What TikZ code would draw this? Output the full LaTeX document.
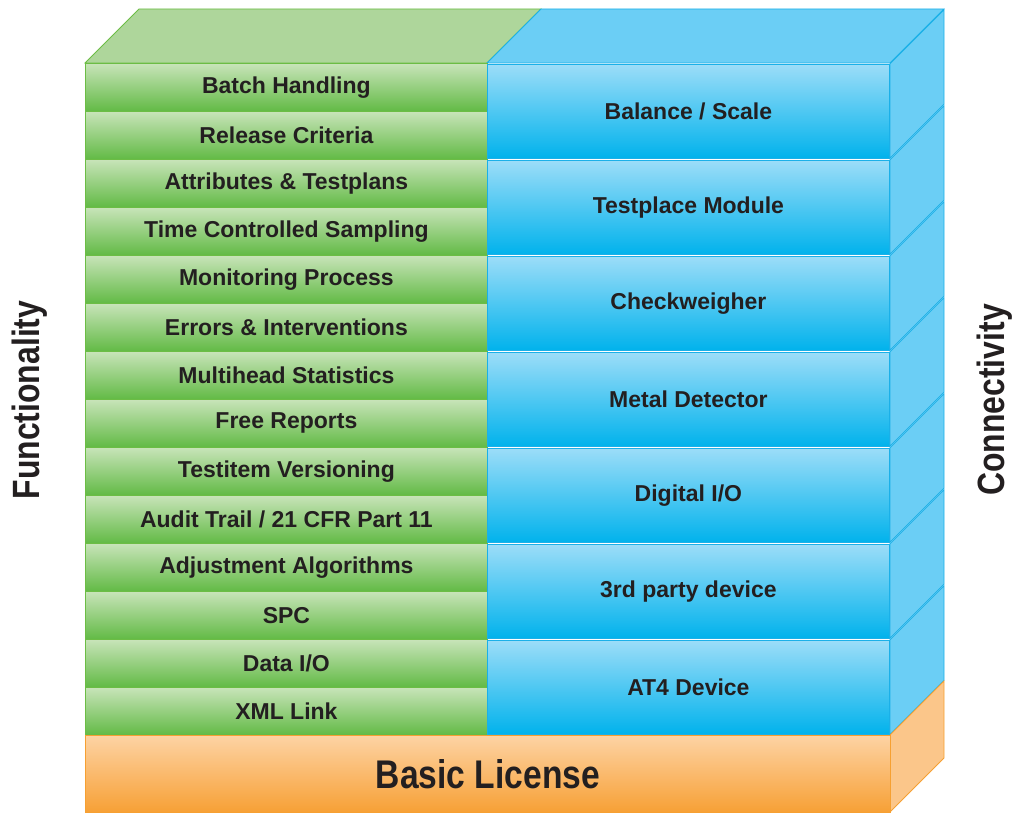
\documentclass[tikz,border=0pt]{standalone}
\usepackage{fontspec}
\setmainfont{Liberation Sans}
\newfontfamily\narrowfont{Liberation Sans}[FakeStretch=0.84]
\usetikzlibrary{positioning}
\definecolor{ink}{HTML}{231F20}
\definecolor{greenln}{HTML}{6CBD45}
\definecolor{greentop}{HTML}{C8E4B9}
\definecolor{greenmid}{HTML}{ADD698}
\definecolor{greenbot}{HTML}{62BA45}
\definecolor{greenlid}{HTML}{AED69B}
\definecolor{blueln}{HTML}{1BB0E8}
\definecolor{bluetop}{HTML}{9CDDF8}
\definecolor{bluemid}{HTML}{58C8F2}
\definecolor{bluebot}{HTML}{00B2EC}
\definecolor{bluelid}{HTML}{6BCEF5}
\definecolor{orangeln}{HTML}{F6A032}
\definecolor{orangetop}{HTML}{FDD3A4}
\definecolor{orangemid}{HTML}{FBBF7D}
\definecolor{orangebot}{HTML}{F7A035}
\definecolor{orangelid}{HTML}{FBC68A}

\begin{document}
\begin{tikzpicture}[x=1pt,y=-1pt,
  func/.style={draw=greenln,line width=0.8pt,top color=greentop,middle color=greenmid,bottom color=greenbot,
    minimum width=402pt,minimum height=48pt,inner sep=0pt,anchor=north west,
    font=\bfseries\fontsize{23}{25}\selectfont,text=ink},
  conn/.style={draw=blueln,line width=0.8pt,top color=bluetop,middle color=bluemid,bottom color=bluebot,
    minimum width=402pt,minimum height=94.5pt,inner sep=0pt,anchor=north west,
    font=\bfseries\fontsize{23}{25}\selectfont,text=ink},
  base/.style={draw=orangeln,line width=0.8pt,top color=orangetop,middle color=orangemid,bottom color=orangebot,
    minimum width=805pt,minimum height=77pt,inner sep=0pt,anchor=north west,
    font=\narrowfont\bfseries\fontsize{40}{44}\selectfont,text=ink},
  axis/.style={rotate=90,font=\narrowfont\bfseries\fontsize{38}{42}\selectfont,text=ink}]
\useasboundingbox (0,0) rectangle (1020,813);
% lids
\filldraw[fill=greenlid,draw=greenln,line width=0.8pt] (85,63) -- (139,9) -- (541,9) -- (487,63) -- cycle;
\filldraw[fill=bluelid,draw=blueln,line width=0.8pt] (487,63) -- (541,9) -- (944,9) -- (890,63) -- cycle;
% right faces
\foreach \j in {0,...,6}
  \filldraw[fill=bluelid,draw=blueln,line width=0.8pt] (890,{63.8+96*\j}) -- ++(54,-54) -- ++(0,94.5) -- ++(-54,54) -- cycle;
\filldraw[fill=orangelid,draw=orangeln,line width=0.8pt] (890,735) -- ++(54,-54) -- ++(0,77) -- ++(-54,54) -- cycle;
% functionality rows
\foreach \lbl [count=\i from 0] in {Batch Handling,Release Criteria,Attributes \& Testplans,
    Time Controlled Sampling,Monitoring Process,Errors \& Interventions,Multihead Statistics,
    Free Reports,Testitem Versioning,Audit Trail / 21 CFR Part 11,Adjustment Algorithms,
    SPC,Data I/O,XML Link}
  \node[func] (f\i) at (85,{63+48*\i}) {\lbl};
% connectivity slabs
\foreach \lbl [count=\j from 0] in {Balance / Scale,Testplace Module,Checkweigher,
    Metal Detector,Digital I/O,3rd party device,AT4 Device}
  \node[conn] (c\j) at (487,{63.8+96*\j}) {\lbl};
% base
\node[base] (lic) at (85,735) {Basic License};
\node[axis] (fun) at (30,400) {Functionality};
\node[axis] (con) at (995,400) {Connectivity};
\end{tikzpicture}
\end{document}
